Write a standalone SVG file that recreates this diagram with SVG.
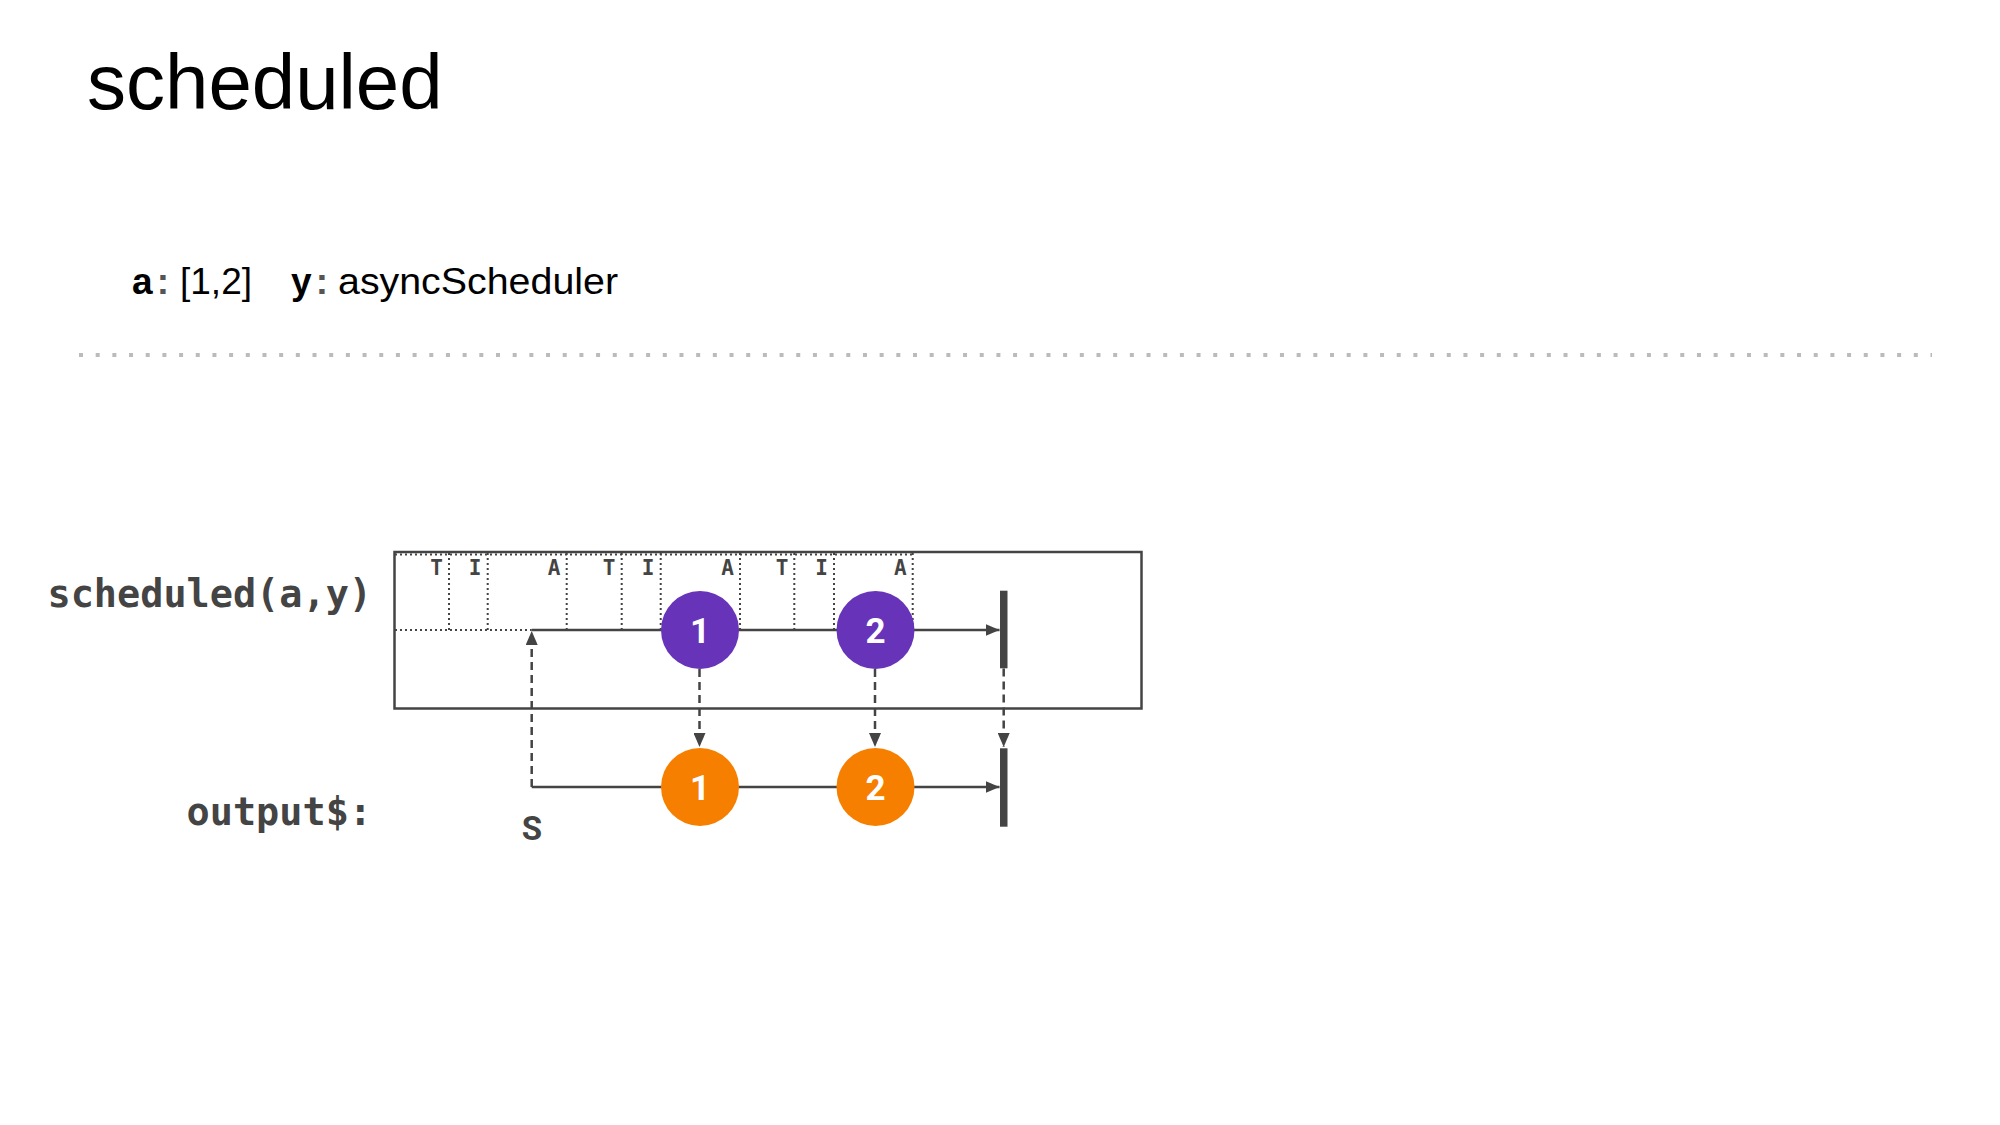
<svg xmlns="http://www.w3.org/2000/svg" width="2000" height="1125" viewBox="0 0 2000 1125">
<style>
.title{font-family:"Liberation Sans",Arial,sans-serif;font-size:78px;fill:#000}
.sub{font-family:"Liberation Sans",Arial,sans-serif;font-size:37px;fill:#000}
.subb{font-family:"Liberation Sans",Arial,sans-serif;font-size:37px;font-weight:bold;fill:#000}
.colon{font-family:"Liberation Sans",Arial,sans-serif;font-size:37px;font-weight:bold;fill:#555}
.lbl{font-family:"DejaVu Sans Mono","Liberation Mono",monospace;font-size:38.5px;font-weight:bold;fill:#444}
.tia{font-family:"DejaVu Sans Mono","Liberation Mono",monospace;font-size:21px;font-weight:bold;fill:#444;text-anchor:end}
.dot{stroke:#444;stroke-width:2;stroke-dasharray:2 3;fill:none}
.line{stroke:#444;stroke-width:2.5;fill:none}
.dash{stroke:#444;stroke-width:2.5;stroke-dasharray:8 5;fill:none}
.num{font-family:Roboto,"Liberation Sans",sans-serif;font-size:35px;font-weight:bold;fill:#fff;text-anchor:middle}
.purple{fill:#6633b9}
.orange{fill:#f77f00}
.bar{fill:#444}
</style>
<defs>
<marker id="ah" markerUnits="userSpaceOnUse" markerWidth="14" markerHeight="12" refX="14" refY="6" orient="auto">
<path d="M0,0 L14,6 L0,12 Z" fill="#444"/>
</marker>
</defs>

<g id="title">
<text class="title" x="87" y="109">scheduled</text>
</g>

<g id="params">
<text class="subb" x="132" y="294">a</text>
<text class="colon" x="163" y="294" text-anchor="middle">:</text>
<text class="sub" x="180" y="294" textLength="72" lengthAdjust="spacingAndGlyphs">[1,2]</text>
<text class="subb" x="291" y="294">y</text>
<text class="colon" x="322" y="294" text-anchor="middle">:</text>
<text class="sub" x="338" y="294" textLength="280" lengthAdjust="spacingAndGlyphs">asyncScheduler</text>
</g>

<g id="separator">
<line x1="79" y1="355" x2="1932" y2="355" stroke="#bbb" stroke-width="4" stroke-dasharray="4 12.68"/>
</g>

<g id="labels">
<text class="lbl" x="372" y="607" text-anchor="end">scheduled(a,y)</text>
<text class="lbl" x="372" y="825" text-anchor="end">output$:</text>
</g>

<g id="operator-box">
<rect x="394.5" y="552" width="747" height="156.5" fill="none" stroke="#444" stroke-width="2.5"/>
</g>

<g id="timing-grid">
<line class="dot" x1="395" y1="554.5" x2="912.7" y2="554.5"/>
<line class="dot" x1="395" y1="630" x2="531.7" y2="630"/>
<line class="dot" x1="566.7" y1="630" x2="660" y2="630"/>
<line class="dot" x1="449" y1="553" x2="449" y2="630"/>
<line class="dot" x1="487.7" y1="553" x2="487.7" y2="630"/>
<line class="dot" x1="566.7" y1="553" x2="566.7" y2="630"/>
<line class="dot" x1="621.7" y1="553" x2="621.7" y2="630"/>
<line class="dot" x1="660.7" y1="553" x2="660.7" y2="630"/>
<line class="dot" x1="740" y1="553" x2="740" y2="630"/>
<line class="dot" x1="794.3" y1="553" x2="794.3" y2="630"/>
<line class="dot" x1="834" y1="553" x2="834" y2="630"/>
<line class="dot" x1="912.7" y1="553" x2="912.7" y2="630"/>
<text class="tia" x="443" y="575">T</text>
<text class="tia" x="481.5" y="575">I</text>
<text class="tia" x="560.5" y="575">A</text>
<text class="tia" x="615.5" y="575">T</text>
<text class="tia" x="654.5" y="575">I</text>
<text class="tia" x="734" y="575">A</text>
<text class="tia" x="788.3" y="575">T</text>
<text class="tia" x="828" y="575">I</text>
<text class="tia" x="906.7" y="575">A</text>
</g>

<g id="connectors">
<line class="line" x1="531.7" y1="630" x2="999.5" y2="630" marker-end="url(#ah)"/>
<path class="line" d="M531.7,787 L999.5,787" marker-end="url(#ah)"/>
<line class="dash" x1="531.7" y1="787" x2="531.7" y2="631" marker-end="url(#ah)"/>
<line class="dash" x1="699.5" y1="669" x2="699.5" y2="747" marker-end="url(#ah)"/>
<line class="dash" x1="875" y1="669" x2="875" y2="747" marker-end="url(#ah)"/>
<line class="dash" x1="1003.7" y1="668.5" x2="1003.7" y2="747" marker-end="url(#ah)"/>
</g>

<g id="complete-top">
<rect class="bar" x="1000" y="590.7" width="7.5" height="77.6"/>
</g>
<g id="complete-bottom">
<rect class="bar" x="1000" y="748.3" width="7.5" height="78.4"/>
</g>

<g id="src-1">
<circle class="purple" cx="700" cy="630" r="39"/>
<text class="num" x="700" y="642.5">1</text>
</g>
<g id="src-2">
<circle class="purple" cx="875.5" cy="630" r="39"/>
<text class="num" x="875.5" y="642.5">2</text>
</g>
<g id="out-1">
<circle class="orange" cx="700" cy="787" r="39"/>
<text class="num" x="700" y="799.5">1</text>
</g>
<g id="out-2">
<circle class="orange" cx="875.5" cy="787" r="39"/>
<text class="num" x="875.5" y="799.5">2</text>
</g>

<g id="subscribe-label">
<text x="532" y="840" text-anchor="middle" font-family="Roboto,'Liberation Sans',sans-serif" font-size="33" font-weight="bold" fill="#444">S</text>
</g>
</svg>
